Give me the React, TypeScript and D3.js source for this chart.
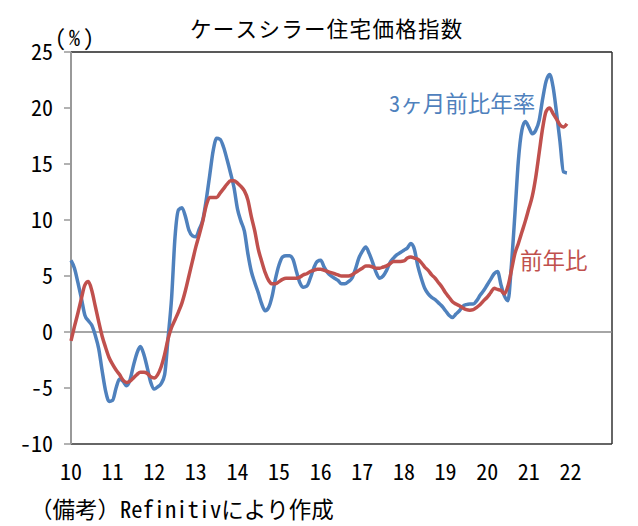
import React from "react";
import * as d3 from "d3";

// Case-Shiller index, monthly Jan 2010 - Dec 2021 (%)
const startYear = 2010;
const yearTicks = [10, 11, 12, 13, 14, 15, 16, 17, 18, 19, 20, 21, 22];
const yTicks = [-10, -5, 0, 5, 10, 15, 20, 25];

const threeMonthAnnualized = [
  6.4, 5.7, 4.4, 3.0, 1.5, 1.0, 0.6, -0.3, -1.5, -3.5, -5.3, -6.2,
  -6.1, -5.0, -4.2, -4.4, -4.8, -4.3, -3.0, -1.9, -1.3, -2.0, -3.2, -4.5,
  -5.1, -4.9, -4.6, -3.8, -0.5, 3.0, 8.5, 10.9, 11.1, 10.3, 9.1, 8.6,
  8.5, 9.2, 10.0, 11.8, 14.0, 16.2, 17.3, 17.2, 16.5, 15.4, 14.2, 12.9,
  11.0, 9.9, 9.0, 7.0, 5.4, 4.4, 3.5, 2.5, 1.9, 2.2, 3.2, 4.8,
  6.0, 6.7, 6.8, 6.8, 6.5, 5.4, 4.4, 4.0, 4.1, 4.8, 5.7, 6.3,
  6.4, 5.8, 5.3, 5.0, 4.8, 4.6, 4.3, 4.3, 4.5, 4.8, 5.6, 6.6,
  7.2, 7.6, 7.0, 6.2, 5.3, 4.8, 5.0, 5.5, 6.2, 6.6, 6.9, 7.1,
  7.3, 7.5, 7.9, 7.4, 5.9, 4.8, 3.9, 3.4, 3.1, 2.9, 2.6, 2.3,
  1.9, 1.5, 1.3, 1.6, 1.9, 2.3, 2.45, 2.5, 2.5, 2.8, 3.3, 3.7,
  4.2, 4.7, 5.2, 5.4, 4.2, 3.2, 2.8, 6.0, 10.5, 15.3, 18.0, 18.8,
  18.3, 17.7, 18.0, 18.9, 20.8, 22.4, 23.0, 21.9, 19.6, 17.0, 14.3, 14.2,
];

const yearOnYear = [
  -0.8, 0.5, 1.7, 3.0, 4.2, 4.5, 3.7, 2.3, 0.9, -0.4, -1.4, -2.3,
  -2.9, -3.4, -3.8, -4.3, -4.5, -4.4, -4.1, -3.8, -3.6, -3.6, -3.7, -4.0,
  -4.1, -3.8, -3.1, -2.0, -0.6, 0.4, 1.1, 1.8, 2.6, 3.7, 5.0, 6.3,
  7.6, 8.7, 9.9, 11.3, 12.0, 12.0, 12.0, 12.4, 12.8, 13.2, 13.5, 13.5,
  13.3, 13.0, 12.6, 11.8, 10.3, 9.0, 7.4, 6.3, 5.3, 4.6, 4.3, 4.3,
  4.5, 4.7, 4.8, 4.8, 4.8, 4.8, 4.9, 5.1, 5.2, 5.4, 5.5, 5.6,
  5.6, 5.5, 5.4, 5.3, 5.2, 5.1, 5.0, 5.0, 5.0, 5.1, 5.3, 5.5,
  5.7, 5.9, 5.9, 5.8, 5.7, 5.7, 5.8, 5.9, 6.1, 6.3, 6.3, 6.3,
  6.35, 6.6, 6.7, 6.6, 6.5, 6.2, 5.8, 5.5, 5.1, 4.8, 4.4, 4.0,
  3.5, 3.1, 2.7, 2.5, 2.35, 2.15, 2.0, 1.95, 2.0, 2.2, 2.45, 2.8,
  3.1, 3.5, 3.9, 3.8, 3.7, 3.4, 4.1, 5.5, 7.0, 7.9, 8.9, 9.9,
  11.0, 12.1, 13.8, 16.0, 18.2, 19.7, 20.0, 19.5, 19.0, 18.5, 18.3, 18.6,
];

const width = 638;
const height = 526;
const margin = { top: 52, right: 26, bottom: 82, left: 71 };
const font = "'Noto Sans Mono CJK JP', 'Noto Sans CJK JP', sans-serif";

export default function App() {
  const x = d3
    .scaleLinear()
    .domain([startYear, startYear + 13])
    .range([margin.left, width - margin.right]);
  const y = d3
    .scaleLinear()
    .domain([-10, 25])
    .range([height - margin.bottom, margin.top]);

  const line = d3
    .line<number>()
    .x((_, i) => x(startYear + i / 12))
    .y((d) => y(d))
    .curve(d3.curveMonotoneX);

  const [x0, x1] = x.range();
  const [yb, yt] = y.range();

  return (
    <svg
      width={width}
      height={height}
      style={{ position: "absolute", left: 0, top: 0, background: "#fff" }}
      fontFamily={font}
    >
      <text x={190} y={37} fontSize={21.5} letterSpacing={1.3} fill="#000">
        ケースシラー住宅価格指数
      </text>

      {/* frame */}
      <line x1={x0} x2={x1} y1={yt} y2={yt} stroke="#222" strokeWidth={1.5} />
      <line x1={x1} x2={x1} y1={yt} y2={yb} stroke="#333" strokeWidth={1.5} />
      <line x1={x0} x2={x1} y1={yb} y2={yb} stroke="#333" strokeWidth={1.5} />
      <line x1={x0} x2={x1} y1={y(0)} y2={y(0)} stroke="#888" strokeWidth={1.5} />
      <line x1={x0} x2={x0} y1={yt} y2={yb} stroke="#999" strokeWidth={2} />

      {yTicks.map((t) => (
        <g key={t}>
          <line x1={x0 - 7} x2={x0} y1={y(t)} y2={y(t)} stroke="#999" strokeWidth={1.5} />
          <text
            x={53}
            y={y(t)}
            dy="0.36em"
            textAnchor="end"
            fontSize={22}
            fill="#000"
          >
            {String(t)}
          </text>
        </g>
      ))}
      <text x={55} y={46} fontSize={22} letterSpacing={3} fill="#000">
        (%)
      </text>

      {yearTicks.map((t) => (
        <text
          key={t}
          x={x(2000 + t)}
          y={480}
          textAnchor="middle"
          fontSize={22}
          fill="#000"
        >
          {t}
        </text>
      ))}

      <path
        d={line(threeMonthAnnualized) ?? ""}
        fill="none"
        stroke="#4F81BD"
        strokeWidth={3.5}
        strokeLinejoin="round"
      />
      <path
        d={line(yearOnYear) ?? ""}
        fill="none"
        stroke="#C0504D"
        strokeWidth={3.5}
        strokeLinejoin="round"
      />

      <text x={389} y={112} fontSize={22.5} fill="#4F81BD">
        3ヶ月前比年率
      </text>
      <text x={520} y={269} fontSize={22.5} fill="#C0504D">
        前年比
      </text>

      <text x={30} y={518} fontSize={22.5} fill="#000">
        （備考）Refinitivにより作成
      </text>
    </svg>
  );
}
